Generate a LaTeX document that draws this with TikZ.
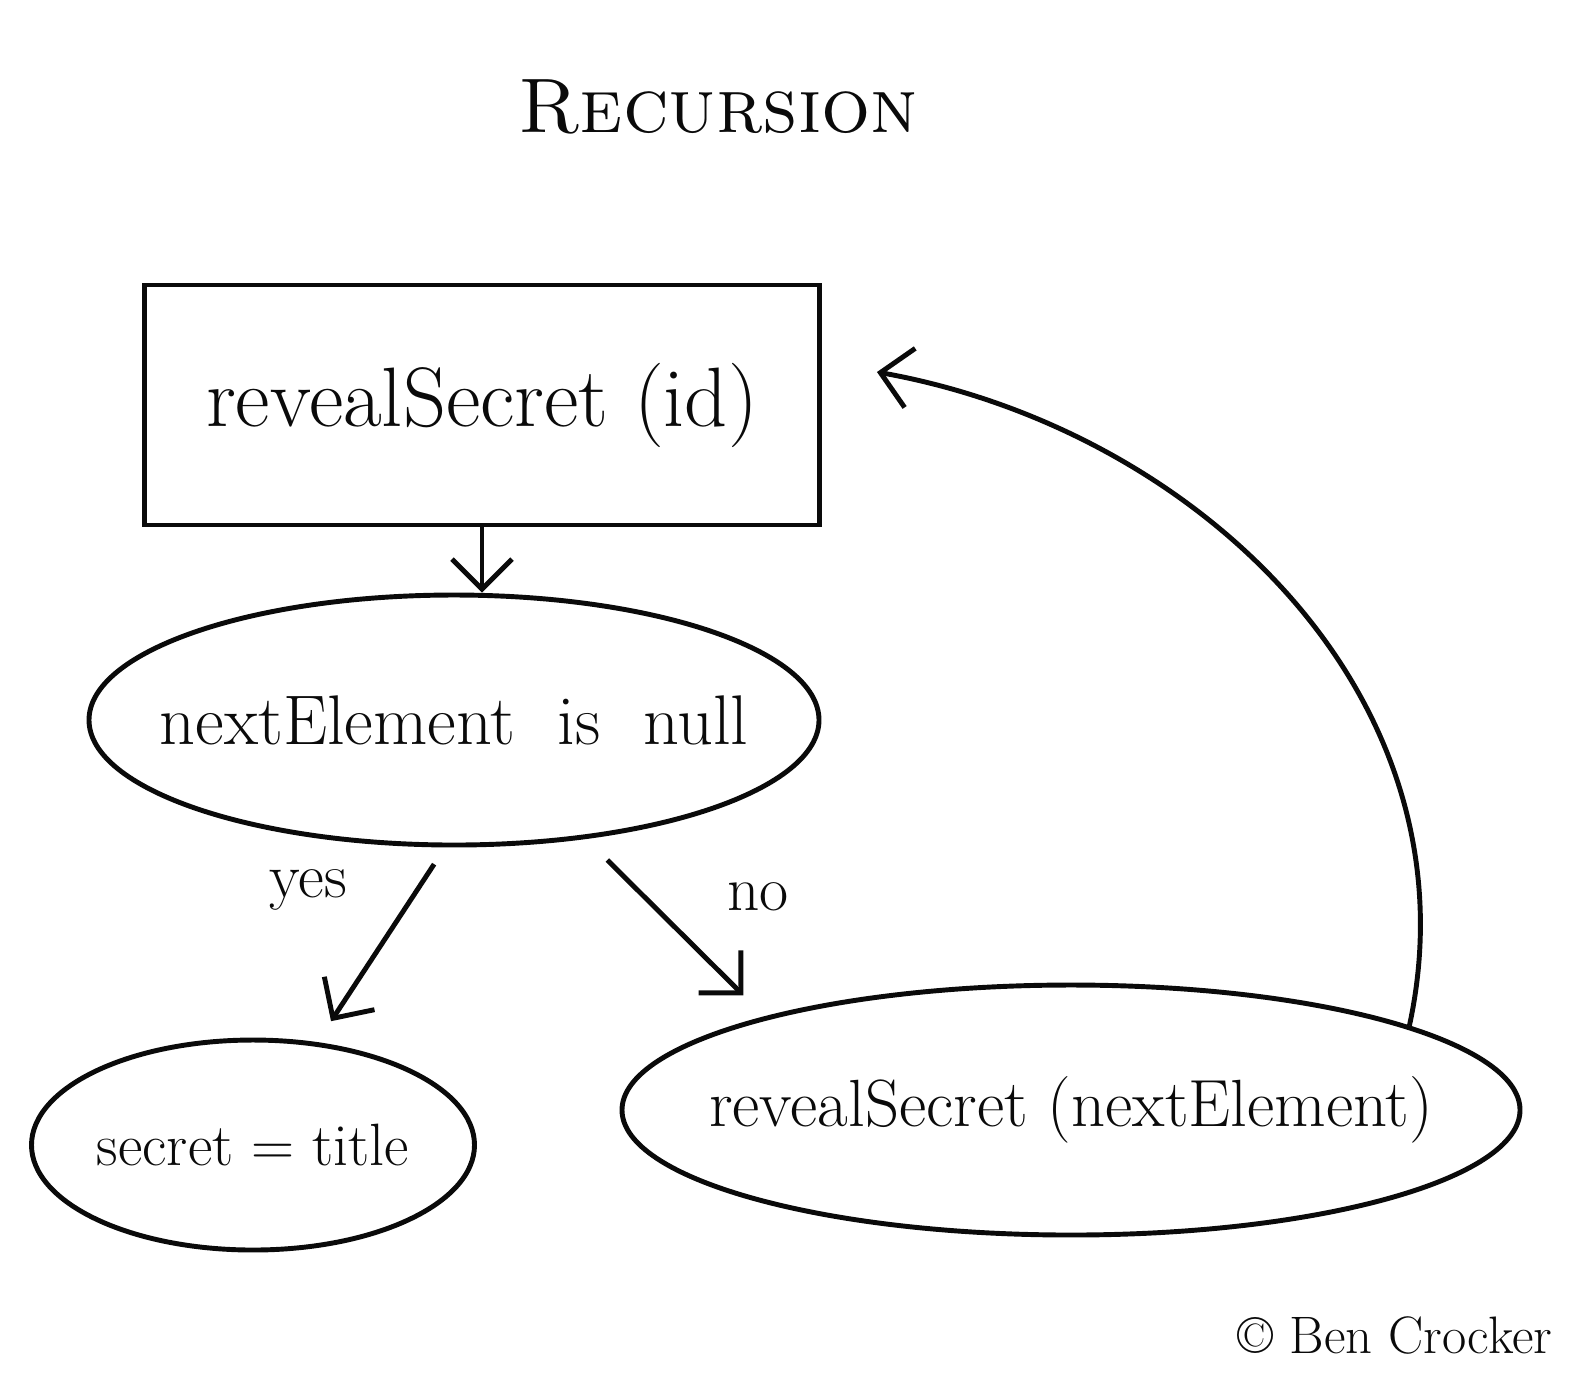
\documentclass[tikz,border=0pt]{standalone}
\usepackage{tikz}
\usepackage{xcolor}
\usetikzlibrary{shapes.geometric,arrows.meta,calc}
\definecolor{inkBlack}{RGB}{10, 10, 10}

\begin{document}
\begin{tikzpicture}
            % Styles
            \tikzstyle{func} = [rectangle, draw=inkBlack, line width=1.4pt, text=inkBlack, minimum width=6.75cm, minimum height=2.4cm, font=\fontsize{24}{28}\selectfont]
            \tikzstyle{test} = [ellipse, draw=inkBlack, line width=1.4pt, text=inkBlack, inner xsep=-3cm, inner ysep=-0.5cm, font=\fontsize{20}{24}\selectfont]
            \tikzstyle{result} = [ellipse, draw=inkBlack, line width=1.4pt, text=inkBlack, inner xsep=-3cm, inner ysep=-0.5cm]
            \tikzstyle{label} = [text=inkBlack, font=\fontsize{18}{22}\selectfont]
            \tikzstyle{arrow} = [-{Straight Barb[length=3mm, width=6mm]}, line width=1.4pt, inkBlack]

            \useasboundingbox (0, 0) rectangle (15.74, -13.96);

            % Nodes - explicit coordinates
            \node[text=inkBlack, font=\fontsize{22}{26}\selectfont] (title) at (7.18, -1.07) {\textsc{Recursion}};

            \node[func] (box) at (4.82, -4.05) {revealSecret (id)};

            \node[test, minimum width=7.3cm, minimum height=2.5cm] (cond) at (4.54, -7.2) {nextElement\ \ is\ \ null};

            \node[result, minimum width=4.43cm, minimum height=2.1cm, font=\fontsize{17}{21}\selectfont] (base) at (2.53, -11.45) {secret = title};
            \node[result, minimum width=8.98cm, minimum height=2.5cm, font=\fontsize{19}{23}\selectfont] (rec) at (10.71, -11.1) {revealSecret (nextElement)};

            \node[text=inkBlack, font=\fontsize{15}{18}\selectfont] (credit) at (13.95, -13.35) {\textcopyright\ Ben Crocker};

            \coordinate (back) at ($(box.east)+(0.55, 0.33)$);

            % Arrows
            \draw[arrow] (box.south) -- (box.south |- cond.north);
            \draw[arrow, shorten <=0.2cm, shorten >=0.25cm] (cond.266) -- node[label, pos=0.5, above left=2mm] {yes} (base.58);
            \draw[arrow, shorten <=0.3cm, shorten >=0.3cm] (cond.318) -- node[label, pos=0.6, above right=2mm] {no} (rec.163);
            \draw[arrow] (rec.14) .. controls (14.8, -7.0) and (12.0, -4.3) .. (back);
        \end{tikzpicture}
\end{document}
